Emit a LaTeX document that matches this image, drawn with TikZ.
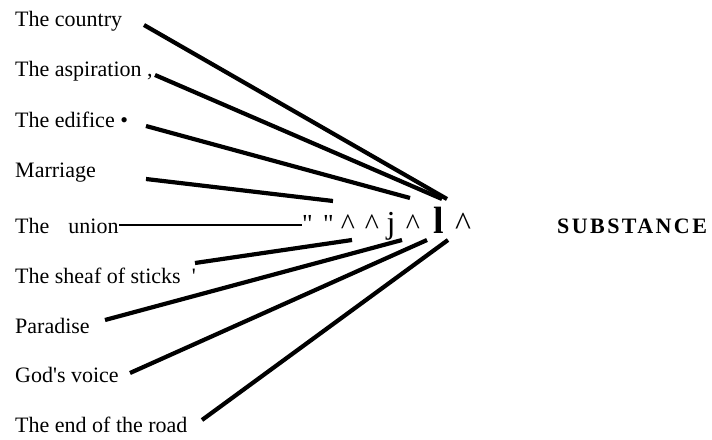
\documentclass[tikz,border=0pt]{standalone}
\usepackage{fontspec}
\setmainfont{Liberation Serif}
\begin{document}
\begin{tikzpicture}[x=1pt,y=-1pt,
  lbl/.style={anchor=base west,inner sep=0pt,font=\fontsize{22}{24}\selectfont},
  junk/.style={anchor=base,inner sep=0pt,font=\fontsize{26}{28}\selectfont},
  caret/.style={anchor=base,inner sep=0pt,font=\fontsize{30}{32}\selectfont},
  spoke/.style={line width=4.2pt},
  thinline/.style={line width=1.8pt}]
\useasboundingbox (0,0) rectangle (712,439);
% labels
\node[lbl] (country) at (15,26) {The country};
\node[lbl] (aspir) at (15,76) {The aspiration ,};
\node[lbl] (edifice) at (15,127) {The edifice \textbullet};
\node[lbl] (marriage) at (15,177) {Marriage};
\node[lbl] (union) at (15,233) {The\hspace*{19pt}union};
\node[lbl] (sheaf) at (15,283) {The sheaf of sticks\hspace*{11pt}\textquotesingle};
\node[lbl] (paradise) at (15,333) {Paradise};
\node[lbl] (god) at (15,382) {God\textquotesingle s voice};
\node[lbl] (road) at (15,432) {The end of the road};
\node[lbl,font=\fontsize{22}{24}\selectfont\bfseries\addfontfeature{LetterSpace=11}] (subst) at (557,233) {SUBSTANCE};
% junk characters
\node[junk] (q1) at (307.5,232) {\textquotedbl};
\node[junk] (q2) at (328.5,232) {\textquotedbl};
\node[caret] (c1) at (348,234) {\textasciicircum};
\node[caret] (c2) at (372,234) {\textasciicircum};
\node[junk,font=\fontsize{32}{34}\selectfont] (jj) at (391,233) {j};
\node[caret] (c3) at (413,234) {\textasciicircum};
\node[junk,font=\fontsize{38}{40}\selectfont\bfseries] (ll) at (439,233) {l};
\node[caret,font=\fontsize{34}{36}\selectfont] (c4) at (463,235) {\textasciicircum};
% end points
\coordinate (a1) at (144,25);   \coordinate (b1) at (447,199);
\coordinate (a2) at (155,75);   \coordinate (b2) at (442,199);
\coordinate (a3) at (146,126);  \coordinate (b3) at (410,198);
\coordinate (a4) at (146,179);  \coordinate (b4) at (333,201);
\coordinate (a5) at (119,225);  \coordinate (b5) at (302,225);
\coordinate (a6) at (195,263);  \coordinate (b6) at (352,240);
\coordinate (a7) at (105,320);  \coordinate (b7) at (402,240);
\coordinate (a8) at (130,373);  \coordinate (b8) at (427,240);
\coordinate (a9) at (202,420);  \coordinate (b9) at (448,240);
\draw[spoke] (a1) -- (b1);
\draw[spoke] (a2) -- (b2);
\draw[spoke] (a3) -- (b3);
\draw[spoke] (a4) -- (b4);
\draw[thinline] (a5) -- (b5);
\draw[spoke] (a6) -- (b6);
\draw[spoke] (a7) -- (b7);
\draw[spoke] (a8) -- (b8);
\draw[spoke] (a9) -- (b9);
\end{tikzpicture}
\end{document}
